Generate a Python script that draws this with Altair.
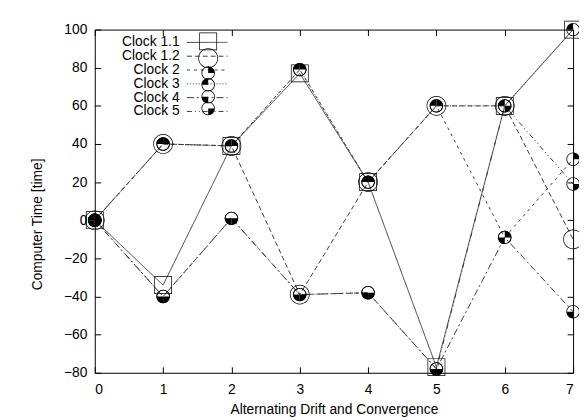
import altair as alt
import pandas as pd

# ---- data ----
x_vals = [0, 1, 2, 3, 4, 5, 6, 7]
clock_11 = [0, -34, 39, 77, 20, -77, 60, 100]
clock_12 = [0, 40, 39, -39, 20, 60, 60, -10]
clock_2 = [0, 40, 39, 79, 20, 60, -9, 32]
clock_3 = [0, 40, 39, 79, 20, 60, 60, 100]
clock_4 = [0, -40, 1, -39, -38, -78, -9, -48]
clock_5 = [0, -40, 1, -39, -38, -78, 60, 19]
names = ["Clock 1.1", "Clock 1.2", "Clock 2", "Clock 3", "Clock 4", "Clock 5"]
x_ticks = [0, 1, 2, 3, 4, 5, 6, 7]
y_ticks = [-80, -60, -40, -20, 0, 20, 40, 60, 80, 100]

series = [clock_11, clock_12, clock_2, clock_3, clock_4, clock_5]
rows = []
for name, vals in zip(names, series):
    for xv, yv in zip(x_vals, vals):
        rows.append({"x": xv, "value": yv, "Clock": name, "ClockP": name})
df = pd.DataFrame(rows)

# ---- styles ----
dashes = [[1, 0], [5, 3], [3, 4], [1, 2], [7, 3, 2, 3], [5, 3, 1, 3, 1, 3]]

SYM_SIZE = 16          # symbol unit radius = 2 px
K = 5.0                # path scale

def f(v):
    return f"{v:.3f}"

def ring_circle(r, t):
    r, ri = r * K, (r - t) * K
    return (f"M{f(r)},0A{f(r)},{f(r)} 0 1,1 {f(-r)},0A{f(r)},{f(r)} 0 1,1 {f(r)},0Z "
            f"M{f(ri)},0A{f(ri)},{f(ri)} 0 1,0 {f(-ri)},0A{f(ri)},{f(ri)} 0 1,0 {f(ri)},0Z")

def ring_square(r, t):
    r, ri = r * K, (r - t) * K
    return (f"M{f(-r)},{f(-r)}H{f(r)}V{f(r)}H{f(-r)}Z "
            f"M{f(-ri)},{f(-ri)}V{f(ri)}H{f(ri)}V{f(-ri)}Z")

R, T = 0.68, 0.08
ri = (R - T) * K
wedges = {
    "tr": f"M0,0L0,{f(-ri)}A{f(ri)},{f(ri)} 0 0,1 {f(ri)},0Z",
    "tl": f"M0,0L{f(-ri)},0A{f(ri)},{f(ri)} 0 0,1 0,{f(-ri)}Z",
    "bl": f"M0,0L0,{f(ri)}A{f(ri)},{f(ri)} 0 0,1 {f(-ri)},0Z",
    "br": f"M0,0L{f(ri)},0A{f(ri)},{f(ri)} 0 0,1 0,{f(ri)}Z",
}
small = ring_circle(R, T)
paths = [
    ring_square(0.9, 0.07),
    ring_circle(1.0, 0.07),
    small + " " + wedges["tr"],
    small + " " + wedges["tl"],
    small + " " + wedges["bl"],
    small + " " + wedges["br"],
]
line_sample = "M-10.25,0H10.25"

FONT = "Liberation Sans"
LINE = "#3a3a3a"
FS = 14

x_scale = alt.Scale(domain=[0, 7], nice=False, zero=False)
y_scale = alt.Scale(domain=[-80, 100], nice=False, zero=False)

lines = alt.Chart(df).mark_line(color=LINE, strokeWidth=1).encode(
    x=alt.X("x:Q", scale=x_scale,
            axis=alt.Axis(orient="bottom", values=x_ticks, format="d",
                          offset={"expr": "-6"},
                          tickSize=6, tickColor="black", domain=False, grid=False,
                          labelPadding=10, labelFontSize=FS, labelFont=FONT,
                          labelColor="black",
                          title="Alternating Drift and Convergence",
                          titleFontSize=FS, titleFontWeight="normal", titleFont=FONT,
                          titleColor="black", titlePadding=6)),
    y=alt.Y("value:Q", scale=y_scale,
            axis=alt.Axis(orient="left", values=y_ticks, offset={"expr": "-6"},
                          tickSize=6, tickColor="black", domain=False, grid=False,
                          labelPadding=8, labelFontSize=FS, labelFont=FONT,
                          labelColor="black",
                          title="Computer Time [time]", titleFontSize=FS,
                          titleFontWeight="normal", titleFont=FONT, titleColor="black",
                          titleX=-64, titleY=197, titleAngle=270,
                          titleBaseline="middle", titleAlign="center")),
    strokeDash=alt.StrokeDash(
        "Clock:N", scale=alt.Scale(domain=names, range=dashes),
        legend=alt.Legend(title=None, orient="none", legendX=107, legendY=6,
                          symbolType=line_sample, symbolSize=SYM_SIZE,
                          symbolStrokeColor=LINE, symbolStrokeWidth=1,
                          symbolFillColor="transparent",
                          labelAlign="right", labelOffset={"expr": "-35"},
                          labelFontSize=FS, labelFont=FONT, labelColor="black",
                          rowPadding={"expr": "-1"}, padding=0)),
)

points = alt.Chart(df).mark_point(filled=True, color="black", opacity=1,
                                   size=SYM_SIZE, strokeWidth=0).encode(
    x=alt.X("x:Q", scale=x_scale,
            axis=alt.Axis(orient="top", values=x_ticks, offset={"expr": "-6"},
                          tickSize=6, tickColor="black", labels=False, domain=False,
                          grid=False, title=None)),
    y=alt.Y("value:Q", scale=y_scale,
            axis=alt.Axis(orient="right", values=y_ticks, offset={"expr": "-6"},
                          tickSize=6, tickColor="black", labels=False, domain=False,
                          grid=False, title=None)),
    shape=alt.Shape(
        "ClockP:N", scale=alt.Scale(domain=names, range=paths),
        legend=alt.Legend(title=None, orient="none", legendX=113, legendY=10,
                          symbolSize=SYM_SIZE, symbolFillColor="black",
                          symbolStrokeWidth=0, symbolOpacity=1,
                          labelExpr="''", labelFontSize=4,
                          rowPadding={"expr": "-2"}, padding=0)),
)

chart = alt.layer(lines, points).resolve_legend(
    strokeDash="independent", shape="independent"
).properties(
    width=485, height=348,
    autosize=alt.AutoSizeParams(type="none"),
    padding={"left": 88, "top": 19, "right": 6, "bottom": 45},
    background="white",
).configure_view(stroke="black", strokeWidth=1)

chart.save("out.html", embed_options={"renderer": "svg", "actions": False})
